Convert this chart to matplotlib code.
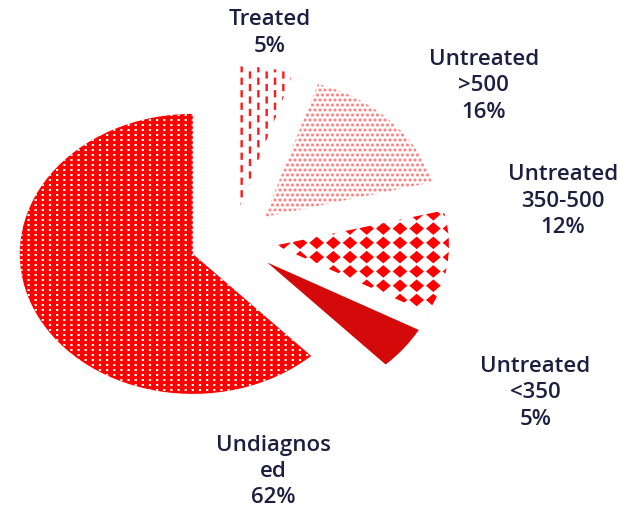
import numpy as np
import matplotlib
matplotlib.use("Agg")
import matplotlib.pyplot as plt
import matplotlib.hatch as mhatch
from matplotlib.path import Path

# ---------------- data ----------------
categories = ["Undiagnos\ned", "Untreated\n<350", "Untreated\n350-500",
              "Untreated\n>500", "Treated"]
shares = [62, 5, 12, 16, 5]
pct_labels = ["62%", "5%", "12%", "16%", "5%"]

# ---------------- styling ----------------
face_colors = ["#FF0000", "#D40A0A", "#FFFFFF", "#FFFFFF", "#FFFFFF"]
hatch_colors = ["#FFFFFF", "#D40A0A", "#FF0000", "#FF8080", "#FF1A1A"]
hatches = [".", "", "*", "o", "O"]
label_pos = [(0.434, 0.088), (0.851, 0.240), (0.895, 0.611),
             (0.769, 0.834), (0.429, 0.936)]
text_color = "#1c1f3f"


# ---------------- custom texture hatches ----------------
class _TileHatch(mhatch.HatchPatternBase):
    char = ""

    def __init__(self, hatch, density):
        self.n = hatch.count(self.char)
        self.polys = self.make_polys() if self.n else []
        self.num_vertices = sum(len(p) + 1 for p in self.polys)

    def make_polys(self):
        return []

    def set_vertices_and_codes(self, vertices, codes):
        i = 0
        for p in self.polys:
            k = len(p)
            vertices[i:i + k] = p
            vertices[i + k] = p[0]
            codes[i] = Path.MOVETO
            codes[i + 1:i + k] = Path.LINETO
            codes[i + k] = Path.CLOSEPOLY
            i += k + 1


def _rect(cx, cy, w, h):
    return np.array([[cx - w / 2, cy - h / 2], [cx + w / 2, cy - h / 2],
                     [cx + w / 2, cy + h / 2], [cx - w / 2, cy + h / 2]])


def _diamond(cx, cy, hw, hh):
    return np.array([[cx, cy - hh], [cx + hw, cy], [cx, cy + hh], [cx - hw, cy]])


class WhiteDots(_TileHatch):
    char = "."

    def make_polys(self):
        nx, ny = 14, 20
        return [_rect(i / nx, j / ny, 0.022, 0.02)
                for i in range(nx + 1) for j in range(ny + 1)]


class PinkDots(_TileHatch):
    char = "o"

    def make_polys(self):
        n = 20
        out = []
        for j in range(n + 1):
            off = 0.5 / n if j % 2 else 0.0
            for i in range(-1, n + 1):
                out.append(_rect(i / n + off, j / n, 0.027, 0.027))
        return out


class Dashes(_TileHatch):
    char = "O"

    def make_polys(self):
        nx, ny = 12, 8
        out = []
        for i in range(nx + 1):
            off = 0.5 / ny if i % 2 else 0.0
            for j in range(-1, ny + 1):
                out.append(_rect(i / nx, j / ny + off, 0.024, 0.072))
        return out


class Diamonds(_TileHatch):
    char = "*"

    def make_polys(self):
        nx, ny = 6, 7
        return [_diamond(i / nx, j / ny, 0.88 / (2 * nx), 0.88 / (2 * ny))
                for i in range(nx + 1) for j in range(ny + 1)]


mhatch._hatch_types = [WhiteDots, PinkDots, Dashes, Diamonds]
plt.rcParams["hatch.linewidth"] = 0.01

# ---------------- figure ----------------
fig = plt.figure(figsize=(6.29, 5.17), dpi=100)
ax = fig.add_axes([0, 0, 1, 1])
wedges, _ = ax.pie(shares, explode=[0.25] * len(shares), startangle=90,
                   counterclock=True, colors=face_colors, hatch=hatches,
                   wedgeprops=dict(linewidth=0))
for w, hc in zip(wedges, hatch_colors):
    w.set_edgecolor(hc)
    w.set_linewidth(0)

ax.set_aspect("auto")
cx_px, cy_px, rx_px, ry_px = 233, 241, 173, 140
ax.set_xlim(-cx_px / rx_px, (629 - cx_px) / rx_px)
ax.set_ylim(-(517 - cy_px) / ry_px, cy_px / ry_px)
ax.axis("off")

for cat, pct, (x, y) in zip(categories, pct_labels, label_pos):
    fig.text(x, y, f"{cat}\n{pct}", ha="center", va="center",
             fontsize=16, family="Open Sans", weight="semibold",
             color=text_color, linespacing=1.33, multialignment="center")

fig.savefig("out.png", dpi=100)
